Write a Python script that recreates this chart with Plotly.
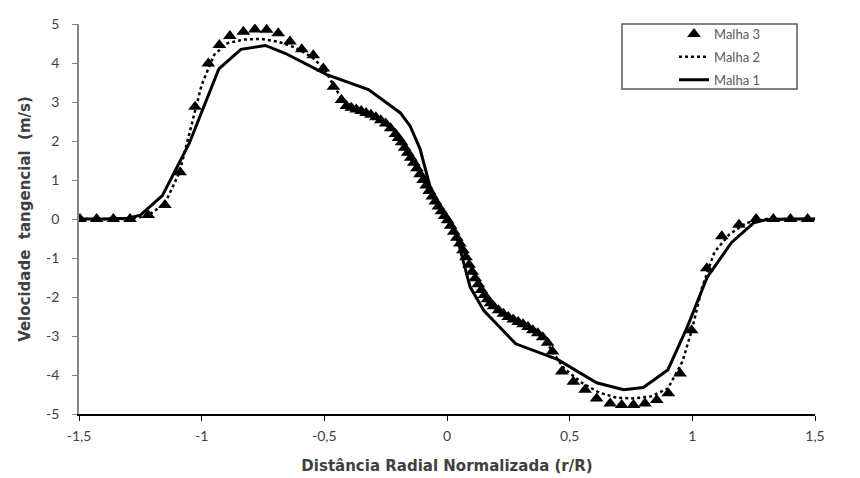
import plotly.graph_objects as go

# Malha 1 (solid line)
m1_x = [-1.5, -1.4, -1.3, -1.25, -1.16, -1.05, -0.93, -0.84, -0.74, -0.66, -0.49, -0.32, -0.19, -0.15, -0.11,
        -0.07, 0.0, 0.04, 0.094, 0.15, 0.28, 0.45, 0.61, 0.72, 0.8, 0.9, 0.98, 1.06, 1.16, 1.25, 1.3, 1.4, 1.5]
m1_y = [0.0, 0.0, 0.02, 0.1, 0.6, 1.95, 3.85, 4.35, 4.45, 4.25, 3.7, 3.32, 2.72, 2.38, 1.8,
        0.85, 0.0, -0.45, -1.74, -2.35, -3.2, -3.6, -4.2, -4.38, -4.32, -3.87, -2.76, -1.5, -0.6, -0.1, -0.02, 0.0, 0.0]

# Malha 2 (dotted line)
m2_x = [-1.5, -1.4, -1.3, -1.22, -1.15, -1.09, -1.04, -1.0, -0.95, -0.9, -0.83, -0.76, -0.69, -0.62, -0.55,
        -0.5, -0.46, -0.42, -0.35, -0.3, -0.25, -0.2, -0.15, -0.1, -0.05, 0.0, 0.05, 0.1, 0.15, 0.2, 0.25,
        0.3, 0.35, 0.4, 0.44, 0.48, 0.55, 0.62, 0.69, 0.76, 0.83, 0.9, 0.96, 1.0, 1.04, 1.09, 1.15, 1.22,
        1.3, 1.4, 1.5]
m2_y = [0.0, 0.0, 0.0, 0.08, 0.4, 1.2, 2.45, 3.44, 4.2, 4.5, 4.6, 4.62, 4.55, 4.4, 4.15,
        3.85, 3.4, 3.0, 2.78, 2.62, 2.42, 2.05, 1.55, 1.0, 0.45, 0.0, -0.55, -1.3, -1.9, -2.25, -2.48,
        -2.65, -2.85, -3.1, -3.5, -3.85, -4.2, -4.45, -4.58, -4.6, -4.55, -4.35, -3.65, -2.8, -1.75, -0.85, -0.4, -0.1,
        0.0, 0.0, 0.0]

# Malha 3 (triangles)
m3_x = [-1.496, -1.428, -1.36, -1.292, -1.218, -1.15, -1.088, -1.027, -0.973, -0.928, -0.885, -0.83, -0.783,
        -0.735, -0.688, -0.64, -0.592, -0.545, -0.504, -0.463,
        -0.43, -0.41, -0.39, -0.37, -0.35, -0.33, -0.31, -0.29, -0.27, -0.25, -0.23, -0.21,
        -0.1975, -0.185, -0.1725, -0.16, -0.1475, -0.135, -0.1225, -0.11, -0.0975, -0.085, -0.0725, -0.06,
        -0.0475, -0.035, -0.0225, -0.01, 0.0025, 0.015, 0.0275, 0.04, 0.0525, 0.065, 0.0775, 0.09, 0.1025,
        0.115, 0.1275, 0.14, 0.1525, 0.165, 0.1775, 0.19,
        0.21, 0.23, 0.25, 0.27, 0.29, 0.31, 0.33, 0.35, 0.37, 0.39, 0.41, 0.43,
        0.468, 0.515, 0.563, 0.61, 0.665, 0.712, 0.76, 0.807, 0.855, 0.902, 0.95, 0.997, 1.059, 1.12,
        1.19, 1.26, 1.33, 1.40, 1.47]
m3_y = [0.0, 0.0, 0.0, 0.0, 0.1, 0.36, 1.2, 2.88, 3.99, 4.46, 4.69, 4.8, 4.86,
        4.85, 4.76, 4.55, 4.35, 4.2, 3.86, 3.39,
        3.05, 2.9, 2.85, 2.81, 2.77, 2.72, 2.67, 2.61, 2.53, 2.45, 2.33, 2.18,
        2.08, 1.97, 1.83, 1.7, 1.57, 1.44, 1.3, 1.15, 1.0, 0.86, 0.72, 0.58,
        0.45, 0.32, 0.2, 0.08, -0.03, -0.17, -0.33, -0.48, -0.63, -0.8, -0.98, -1.17, -1.35,
        -1.52, -1.67, -1.82, -1.95, -2.06, -2.16, -2.24,
        -2.34, -2.43, -2.51, -2.58, -2.64, -2.7, -2.77, -2.85, -2.93, -3.03, -3.17, -3.4,
        -3.91, -4.17, -4.38, -4.6, -4.73, -4.77, -4.77, -4.73, -4.64, -4.47, -3.96, -2.85, -1.26, -0.44,
        -0.15, 0.0, 0.0, 0.0, 0.0]

x_tickvals = [-1.5, -1.0, -0.5, 0.0, 0.5, 1.0, 1.5]
x_ticktext = ["-1,5", "-1", "-0,5", "0", "0,5", "1", "1,5"]
y_tickvals = [-5, -4, -3, -2, -1, 0, 1, 2, 3, 4, 5]
y_ticktext = ["-5", "-4", "-3", "-2", "-1", "0", "1", "2", "3", "4", "5"]

fig = go.Figure()
fig.add_trace(go.Scatter(x=m1_x, y=m1_y, mode="lines", name="Malha 1", legendgroup="g1", legendrank=3,
                         line=dict(color="black", width=3)))
fig.add_trace(go.Scatter(x=m2_x, y=m2_y, mode="lines", name="Malha 2", legendgroup="g2", legendrank=2,
                         line=dict(color="black", width=2.5, dash="dot")))
fig.add_trace(go.Scatter(x=m3_x, y=m3_y, mode="markers", name="Malha 3", legendgroup="g3", legendrank=1,
                         marker=dict(symbol="triangle-up", size=12, color="black")))

L, R, T, B = 79, 45, 24, 64
W, H = 860, 478
pw, ph = W - L - R, H - T - B

title_font = dict(family="'DejaVu Sans', sans-serif", size=15, color="#404040")

fig.update_layout(
    width=W, height=H,
    margin=dict(l=L, r=R, t=T, b=B),
    paper_bgcolor="white", plot_bgcolor="white",
    font=dict(family="Lato, 'Noto Sans', sans-serif", color="#404040", size=13),
    showlegend=True,
    legend=dict(
        x=(674 - L) / pw, y=1.0 + 5 / ph, xanchor="left", yanchor="top",
        traceorder="grouped", tracegroupgap=3,
        bgcolor="rgba(0,0,0,0)", borderwidth=0,
        font=dict(size=13, color="#595959"), itemwidth=30,
    ),
    shapes=[dict(type="rect", xref="paper", yref="paper",
                 x0=(622 - L) / pw, x1=(797 - L) / pw,
                 y0=(414 - 89) / ph, y1=1.0,
                 line=dict(color="#595959", width=1.5), fillcolor="rgba(0,0,0,0)", layer="below")],
)
fig.update_xaxes(
    range=[-1.5, 1.5], tickvals=x_tickvals, ticktext=x_ticktext, automargin=False,
    showline=True, linecolor="black", linewidth=2, mirror=False,
    ticks="outside", ticklen=5, tickcolor="black", tickwidth=1,
    showgrid=False, zeroline=False, ticklabelstandoff=3,
    tickfont=dict(size=14, color="#404040"),
    title=dict(text="<b>Distância Radial Normalizada (r/R)</b>", font=title_font, standoff=18),
)
fig.update_yaxes(
    range=[-5, 5], tickvals=y_tickvals, ticktext=y_ticktext, automargin=False,
    showline=True, linecolor="#868686", linewidth=1.5,
    ticks="outside", ticklen=5, tickcolor="#868686", tickwidth=1,
    showgrid=False, zeroline=False, ticklabelstandoff=10,
    tickfont=dict(size=14, color="#404040"),
    title=dict(text="<b>Velocidade\u00a0 tangencial\u00a0 (m/s)</b>", font=title_font, standoff=12),
)
fig.write_html("out.html")
